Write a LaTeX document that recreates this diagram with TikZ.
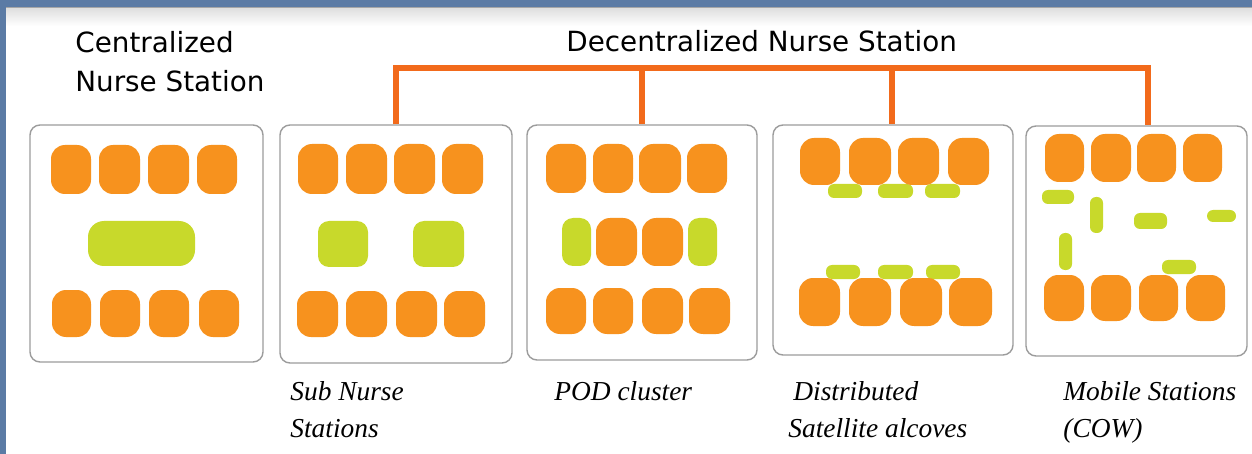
\documentclass[tikz,border=0pt]{standalone}
\usepackage{fontspec}
\setmainfont{Liberation Serif}
\newfontfamily\headfont{DejaVu Sans}
\usetikzlibrary{fit}
\definecolor{seat}{HTML}{F7921E}
\definecolor{desk}{HTML}{C8D92B}
\definecolor{linkorange}{HTML}{F26A1B}
\definecolor{frameblue}{HTML}{5B7BA5}
\definecolor{panelgray}{HTML}{9C9C9C}
\begin{document}
\begin{tikzpicture}[x=0.5pt,y=-0.5pt,
  seatbox/.style={fill=seat, rounded corners=7pt},
  deskbox/.style={fill=desk, rounded corners=#1},
  deskbox/.default=3pt,
  panel/.style={draw=panelgray, line width=0.7pt, rounded corners=5pt, inner sep=0pt, fill=white},
  heading/.style={font=\headfont\fontsize{13.9}{19}\selectfont, inner sep=0pt, anchor=base west},
  caption/.style={font=\itshape\fontsize{13.7}{18.5}\selectfont, inner sep=0pt, anchor=base west},
  connector/.style={draw=linkorange, line width=3.3pt, line join=miter}]
\useasboundingbox (0,0) rectangle (1252,454);
\fill[white] (0,0) rectangle (1252,454);
% slide frame
\shade[top color=black!12, bottom color=white] (6,9) rectangle (1252,26);
\fill[frameblue] (0,0) rectangle (1252,7);
\fill[frameblue] (0,0) rectangle (6,454);
\draw[black!35, line width=0.5pt] (6,8) -- (1252,8);
% headings
\node[heading] (tc1) at (75,53) {Centralized};
\node[heading] (tc2) at (75,92) {Nurse Station};
\node[heading] (td) at (566,52) {Decentralized Nurse Station};
% panels
\node[panel, fit={(30,125) (263,362)}] (b1) {};
\node[panel, fit={(280,125) (512,363)}] (b2) {};
\node[panel, fit={(527,125) (757,360)}] (b3) {};
\node[panel, fit={(773,125) (1013,355)}] (b4) {};
\node[panel, fit={(1026,126) (1247,356)}] (b5) {};
% connectors
\coordinate (j2) at (396,68);
\coordinate (j3) at (642,68);
\coordinate (j4) at (892,68);
\coordinate (j5) at (1148,68);
\draw[connector] (j2 |- b2.north) -- (j2) -- (j5) -- (j5 |- b5.north);
\draw[connector] (j3) -- (j3 |- b3.north);
\draw[connector] (j4) -- (j4 |- b4.north);
% panel 1: centralized
\foreach \a/\b in {51/91,99/140,148/189,197/237}
  \fill[seatbox] (\a,145) rectangle (\b,194);
\fill[deskbox=8pt] (88,221) rectangle (195,266);
\foreach \a/\b in {52/91,100/140,149/189,199/239}
  \fill[seatbox] (\a,290) rectangle (\b,337);
% panel 2: sub nurse stations
\foreach \a/\b in {298/338,346/387,394/435,442/483}
  \fill[seatbox] (\a,144) rectangle (\b,194);
\fill[deskbox=5.5pt] (318,221) rectangle (368,267);
\fill[deskbox=5.5pt] (413,221) rectangle (464,267);
\foreach \a/\b in {297/338,346/387,396/437,444/485}
  \fill[seatbox] (\a,291) rectangle (\b,337);
% panel 3: POD cluster
\foreach \a/\b in {546/586,593/633,639/681,687/727}
  \fill[seatbox] (\a,144) rectangle (\b,193);
\fill[deskbox=5.5pt] (562,218) rectangle (591,266);
\fill[seatbox] (596,218) rectangle (637,266);
\fill[seatbox] (642,218) rectangle (683,266);
\fill[deskbox=5.5pt] (688,218) rectangle (717,266);
\foreach \a/\b in {546/586,593/633,642/683,689/730}
  \fill[seatbox] (\a,288) rectangle (\b,334);
% panel 4: distributed alcoves
\foreach \a/\b in {828/862,878/913,925/960}
  \fill[deskbox] (\a,184) rectangle (\b,198);
\foreach \a/\b in {826/860,878/913,926/960}
  \fill[deskbox] (\a,265) rectangle (\b,279);
\foreach \a/\b in {800/840,849/891,898/939,948/989}
  \fill[seatbox] (\a,138) rectangle (\b,185);
\foreach \a/\b in {799/840,849/891,900/942,949/992}
  \fill[seatbox] (\a,278) rectangle (\b,326);
% panel 5: mobile stations
\fill[deskbox] (1042,190) rectangle (1074,204);
\fill[deskbox] (1090,197) rectangle (1103,233);
\fill[deskbox] (1134,213) rectangle (1167,229);
\fill[deskbox] (1207,210) rectangle (1236,222);
\fill[deskbox] (1059,233) rectangle (1072,270);
\fill[deskbox] (1162,260) rectangle (1196,274);
\foreach \a/\b in {1045/1084,1091/1131,1137/1176,1183/1222}
  \fill[seatbox] (\a,134) rectangle (\b,182);
\foreach \a/\b in {1044/1084,1091/1131,1139/1178,1186/1225}
  \fill[seatbox] (\a,275) rectangle (\b,321);
% captions
\node[caption] (c2a) at (290,400) {Sub Nurse};
\node[caption] (c2b) at (290,437) {Stations};
\node[caption] (c3a) at (554,400) {POD cluster};
\node[caption] (c4a) at (793,400) {Distributed};
\node[caption] (c4b) at (788,437) {Satellite alcoves};
\node[caption] (c5a) at (1063,400) {Mobile Stations};
\node[caption] (c5b) at (1063,437) {(COW)};
\end{tikzpicture}
\end{document}
